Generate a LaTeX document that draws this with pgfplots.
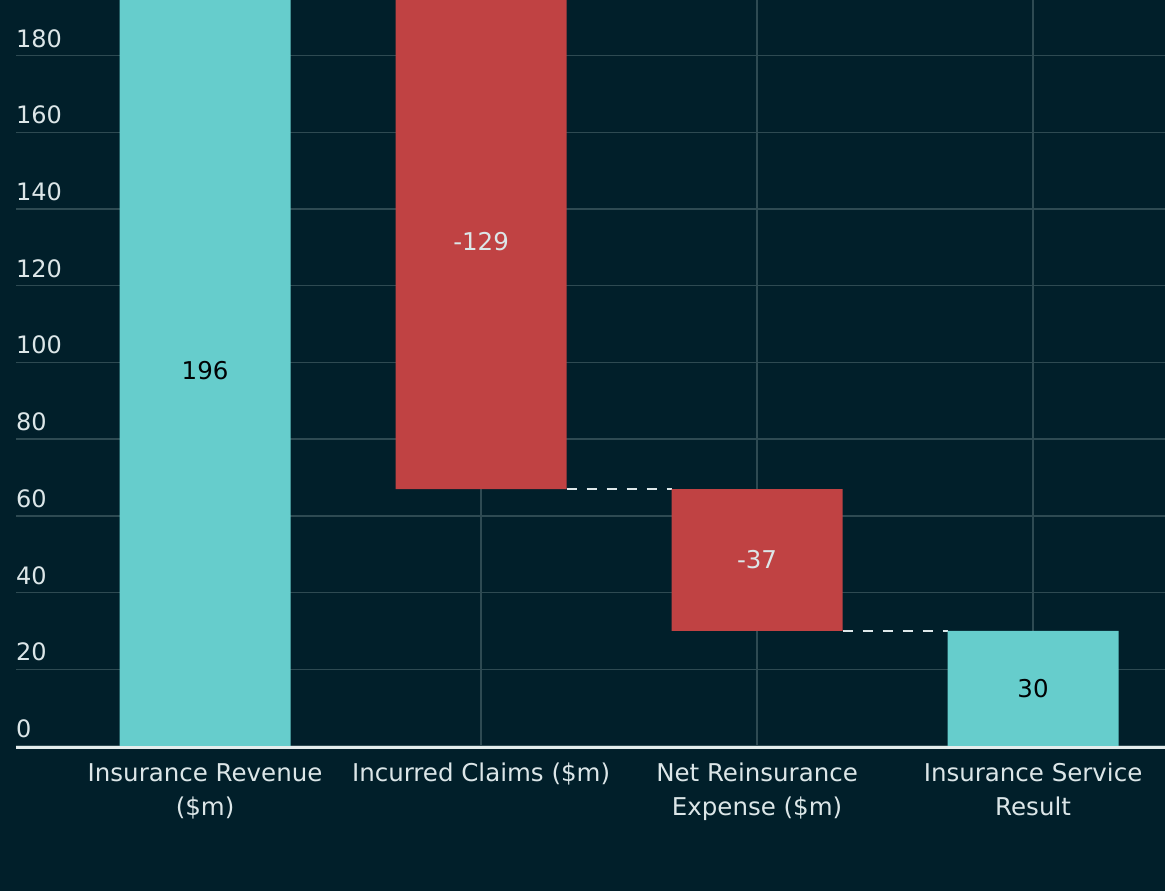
\documentclass[border=0pt]{standalone}
\usepackage{fontspec}
\setmainfont{DejaVu Sans}
\usepackage{pgfplots}
\pgfplotsset{compat=1.18}
\definecolor{bg}{HTML}{011F2A}
\definecolor{tealbar}{HTML}{66CDCC}
\definecolor{redbar}{HTML}{C04243}
\definecolor{gridc}{HTML}{2E4A52}
\definecolor{labc}{HTML}{DCE6E8}
\definecolor{axisc}{HTML}{E4ECEC}
\begin{document}
\fontsize{24.5}{30}\selectfont
\begin{tikzpicture}[x=1pt,y=1pt]
\useasboundingbox (-16,-145) rectangle (1149,746);
\fill[bg] (-20,-150) rectangle (1153,750);
\begin{axis}[
  at={(0,0)}, anchor=south west,
  scale only axis, width=1149pt, height=746pt,
  xmin=-0.685, xmax=3.478, ymin=0, ymax=194.5,
  ybar stacked, bar width=0.62,
  axis line style={draw=none},
  tick style={draw=none},
  major tick length=0pt,
  xtick={0,1,2,3},
  xticklabels={{Insurance Revenue\\(\$m)},{Incurred Claims (\$m)},{Net Reinsurance\\Expense (\$m)},{Insurance Service\\Result}},
  xticklabel style={align=center, text=labc, font=\fontsize{24.5}{34}\selectfont, yshift=-9pt},
  ytick={0,20,...,180},
  yticklabel style={anchor=south west, inner sep=0pt, text=labc, yshift=8pt, font=\fontsize{24}{30}\selectfont},
  /pgf/number format/assume math mode=true,
  xmajorgrids, ymajorgrids,
  grid style={gridc, line width=1.5pt},
]
% invisible base
\addplot[draw=none, fill=none] coordinates {(0,0) (1,67) (2,30) (3,0)};
% positive bars
\addplot[draw=none, fill=tealbar] coordinates {(0,196) (1,0) (2,0) (3,30)};
% negative bars
\addplot[draw=none, fill=redbar] coordinates {(0,0) (1,129) (2,37) (3,0)};
% connectors
\addplot[stack plots=false, sharp plot, labc, line width=2.5pt, dash pattern=on 10pt off 10pt] coordinates {(1.31,67) (1.69,67)};
\addplot[stack plots=false, sharp plot, labc, line width=2.5pt, dash pattern=on 10pt off 10pt] coordinates {(2.31,30) (2.69,30)};
\coordinate (l0) at (axis cs:0,98);
\coordinate (l1) at (axis cs:1,131.5);
\coordinate (l2) at (axis cs:2,48.5);
\coordinate (l3) at (axis cs:3,15);
\end{axis}
\node[text=black!90!bg] at (l0) {196};
\node[text=labc] at (l1) {-129};
\node[text=labc] at (l2) {-37};
\node[text=black!90!bg] at (l3) {30};
\draw[axisc, line width=3pt] (0,-1.5) -- (1149,-1.5);
\end{tikzpicture}
\end{document}
